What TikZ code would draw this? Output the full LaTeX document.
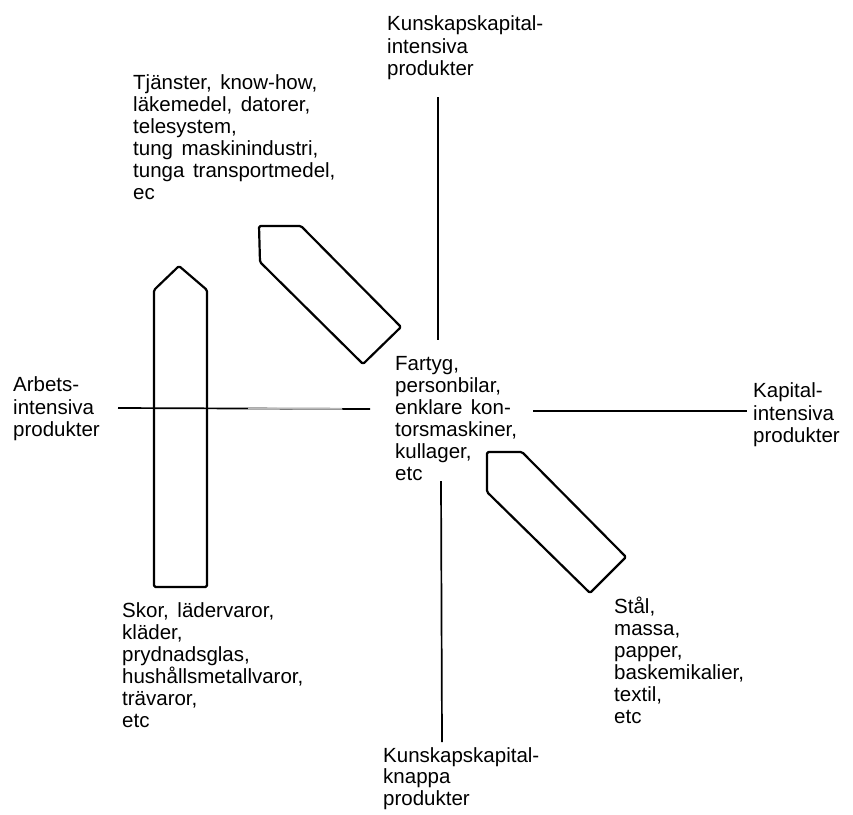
\documentclass[tikz,border=0pt]{standalone}
\usepackage{fontspec}
\setmainfont{Liberation Sans}[WordSpace=1.5]
\newcommand\fstrut{\rule{0pt}{1em}}
\newcommand\lstfont{\fontsize{20.5}{22.1}\selectfont}
\newcommand\axfont{\fontsize{20.5}{22.8}\selectfont}
\newcommand\botfont{\fontsize{20.5}{21.5}\selectfont}
\begin{document}
\begin{tikzpicture}[x=1pt,y=-1pt,
  lbl/.style={anchor=north west, inner sep=0pt, align=left, font=\lstfont},
  axlbl/.style={anchor=north west, inner sep=0pt, align=left, font=\axfont},
  botlbl/.style={anchor=north west, inner sep=0pt, align=left, font=\botfont},
  axis/.style={line width=1.7pt},
  boat/.style={line width=2.2pt, line join=round, rounded corners=1.5pt}]
\useasboundingbox (0,0) rectangle (853,814);
% labels
\node[axlbl] (top) at (387,9.5) {\fstrut Kunskapskapital-\\intensiva\\produkter};
\node[lbl] (tl) at (133,68.5) {\fstrut Tjänster, know-how,\\läkemedel, datorer,\\telesystem,\\tung maskinindustri,\\tunga transportmedel,\\ec};
\node[axlbl] (left) at (13,370.5) {\fstrut Arbets-\\intensiva\\produkter};
\node[lbl] (mid) at (395,349.5) {\fstrut Fartyg,\\personbilar,\\enklare kon-\\torsmaskiner,\\kullager,\\etc};
\node[axlbl] (right) at (753,376.5) {\fstrut Kapital-\\intensiva\\produkter};
\node[lbl] (bl) at (122,596.5) {\fstrut Skor, lädervaror,\\kläder,\\prydnadsglas,\\hushållsmetallvaror,\\trävaror,\\etc};
\node[lbl] (br) at (614,592.5) {\fstrut Stål,\\massa,\\papper,\\baskemikalier,\\textil,\\etc};
\node[botlbl] (bot) at (383,741.5) {\fstrut Kunskapskapital-\\knappa\\produkter};
% axes
\coordinate (vt1) at (438,97);
\coordinate (vt2) at (438,340);
\coordinate (vb1) at (441,481);
\coordinate (vb2) at (442,742);
\coordinate (hl1) at (118,408);
\coordinate (hl2) at (370,409);
\coordinate (hg1) at (248,408.5);
\coordinate (hg2) at (342,408.8);
\coordinate (hr1) at (533,411);
\coordinate (hr2) at (747,411);
\draw[axis] (vt1) -- (vt2);
\draw[axis] (vb1) -- (vb2);
\draw[axis] (hl1) -- (hl2);
\draw[axis, gray!55] (hg1) -- (hg2);
\draw[axis] (hr1) -- (hr2);
% boats
\draw[boat] (179,266) -- (207,290) -- (207,587) -- (154,587) -- (154,290) -- cycle;
\draw[boat] (259,226) -- (301,226) -- (401,327) -- (363,364) -- (260,262) -- cycle;
\draw[boat] (487,452) -- (522,452) -- (626,557) -- (590,593) -- (487,492) -- cycle;
\end{tikzpicture}
\end{document}
